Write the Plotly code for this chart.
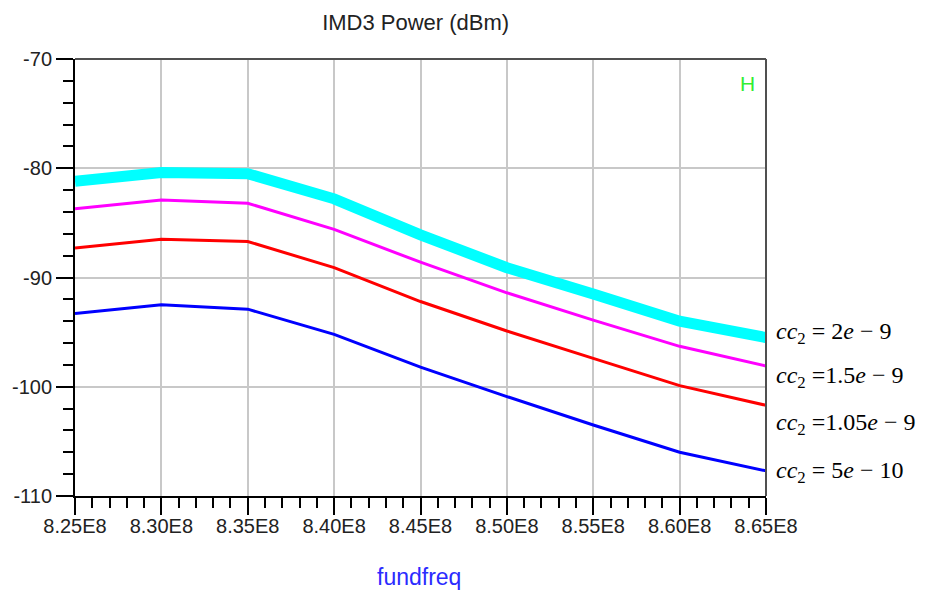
import plotly.graph_objects as go

# Fundamental frequency sweep (Hz)
freq = [8.25e8, 8.30e8, 8.35e8, 8.40e8, 8.45e8, 8.50e8, 8.55e8, 8.60e8, 8.65e8]
tick_labels = ["8.25E8", "8.30E8", "8.35E8", "8.40E8", "8.45E8",
               "8.50E8", "8.55E8", "8.60E8", "8.65E8"]
power_ticks = [-110, -100, -90, -80, -70]
power_tick_labels = ["-110", "-100", "-90", "-80", "-70"]

# IMD3 power (dBm) for each coupling capacitor value
imd3_cc2_2e9 = [-81.2, -80.4, -80.5, -82.8, -86.1, -89.1, -91.5, -94.0, -95.5]
imd3_cc2_1p5e9 = [-83.7, -82.9, -83.2, -85.6, -88.6, -91.4, -93.9, -96.3, -98.1]
imd3_cc2_1p05e9 = [-87.3, -86.5, -86.7, -89.1, -92.2, -94.9, -97.4, -99.9, -101.7]
imd3_cc2_5e10 = [-93.3, -92.5, -92.9, -95.2, -98.2, -100.9, -103.5, -106.0, -107.7]

series = [
    (imd3_cc2_2e9, "#00ffff", 11, "<i>cc</i><sub>2</sub> = 2<i>e</i> − 9", -95.1),
    (imd3_cc2_1p5e9, "#ff00ff", 3, "<i>cc</i><sub>2</sub> =1.5<i>e</i> − 9", -99.1),
    (imd3_cc2_1p05e9, "#ff0000", 3, "<i>cc</i><sub>2</sub> =1.05<i>e</i> − 9", -103.4),
    (imd3_cc2_5e10, "#0000ff", 3, "<i>cc</i><sub>2</sub> = 5<i>e</i> − 10", -107.8),
]

fig = go.Figure()
for vals, color, width, label, label_y in series:
    fig.add_trace(go.Scatter(x=freq, y=vals, mode="lines",
                             line=dict(color=color, width=width),
                             showlegend=False, name=label))
    fig.add_annotation(x=1.012, xref="paper", y=label_y, yref="y",
                       text=label, showarrow=False, xanchor="left",
                       yanchor="middle",
                       font=dict(family="Liberation Serif", size=24,
                                 color="black"))

axis_font = dict(family="Liberation Sans", size=20, color="#222222")

fig.update_xaxes(
    range=[8.25e8, 8.65e8], tickvals=freq, ticktext=tick_labels,
    ticks="outside", ticklen=17, tickwidth=2, tickcolor="black",
    ticklabelstandoff=-6,
    showline=True, linecolor="black", linewidth=2,
    showgrid=True, gridcolor="#c8c8c8", gridwidth=2,
    zeroline=False, tickfont=axis_font,
    minor=dict(dtick=0.01e8, tick0=8.25e8, ticks="outside", ticklen=10,
               tickwidth=2, tickcolor="black", showgrid=False),
)
fig.update_yaxes(
    range=[-110, -70], tickvals=power_ticks, ticktext=power_tick_labels,
    ticks="outside", ticklen=17, tickwidth=2, tickcolor="black",
    showline=True, linecolor="black", linewidth=2,
    showgrid=True, gridcolor="#c8c8c8", gridwidth=2,
    zeroline=False, tickfont=axis_font,
    minor=dict(dtick=2, tick0=-110, ticks="outside", ticklen=10,
               tickwidth=2, tickcolor="black", showgrid=False),
)

# Top and right frame edges
fig.add_shape(type="line", xref="paper", yref="paper", x0=0, x1=1, y0=1, y1=1,
              line=dict(color="#505050", width=2))
fig.add_shape(type="line", xref="paper", yref="paper", x0=1, x1=1, y0=0, y1=1,
              line=dict(color="#505050", width=2))

fig.add_annotation(x=0.973, xref="paper", y=0.945, yref="paper", text="H",
                   showarrow=False, xanchor="center", yanchor="middle",
                   font=dict(family="Liberation Sans", size=21, color="#33ee33"))

fig.add_annotation(x=0.498, xref="paper", y=-0.185, yref="paper",
                   text="fundfreq", showarrow=False,
                   xanchor="center", yanchor="middle",
                   font=dict(family="Liberation Sans", size=23, color="#2b2bff"))

fig.update_layout(
    width=937, height=596,
    margin=dict(l=73, r=171, t=59, b=100),
    paper_bgcolor="white", plot_bgcolor="white",
    title=dict(text="IMD3 Power (dBm)", x=0.493, xref="paper",
               xanchor="center", y=1 - 22 / 596, yanchor="middle",
               font=dict(family="Liberation Sans", size=22, color="#222222")),
)

fig.write_html("out.html")
